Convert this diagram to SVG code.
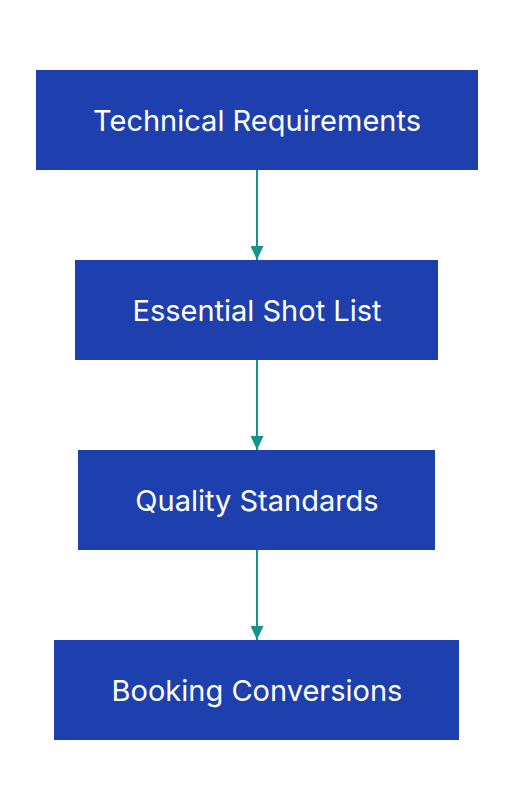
<svg xmlns="http://www.w3.org/2000/svg" width="514" height="812" viewBox="0 0 514 812">
<defs>
<style>
.node rect{fill:#1E40AF;}
.node text{fill:#ffffff;font-family:Inter,"Noto Sans",sans-serif;font-size:29px;text-anchor:middle;dominant-baseline:central;}
.edge{stroke:#16938A;stroke-width:2;fill:none;}
</style>
<marker id="arrow" markerWidth="14" markerHeight="13" refX="14" refY="6.5" orient="auto" markerUnits="userSpaceOnUse">
<path d="M0,0 L14,6.5 L0,13 Z" fill="#16938A"/>
</marker>
</defs>
<rect width="514" height="812" fill="#ffffff"/>
<g id="connectors">
<path class="edge" d="M257,170 L257,260" marker-end="url(#arrow)"/>
<path class="edge" d="M257,360 L257,450" marker-end="url(#arrow)"/>
<path class="edge" d="M257,550 L257,640" marker-end="url(#arrow)"/>
</g>
<g id="node1" class="node"><rect x="36" y="70" width="442" height="100"/><text x="257" y="120">Technical Requirements</text></g>
<g id="node2" class="node"><rect x="75" y="260" width="363" height="100"/><text x="257" y="310">Essential Shot List</text></g>
<g id="node3" class="node"><rect x="78" y="450" width="357" height="100"/><text x="257" y="500">Quality Standards</text></g>
<g id="node4" class="node"><rect x="54" y="640" width="405" height="100"/><text x="257" y="690">Booking Conversions</text></g>
</svg>
